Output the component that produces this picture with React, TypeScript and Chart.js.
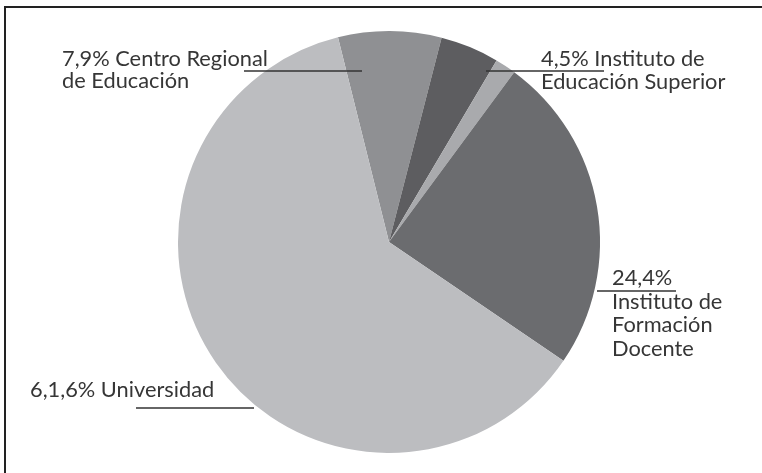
import React, { useEffect, useRef } from 'react';
import { Chart, registerables } from 'chart.js';

Chart.register(...registerables);

const categories = [
  'Centro Regional de Educación',
  'Instituto de Educación Superior',
  'Otros',
  'Instituto de Formación Docente',
  'Universidad',
];
const values = [7.9, 4.5, 1.6, 24.4, 61.6];
const sliceColors = ['#8f9093', '#5d5d60', '#a9aaad', '#6b6c6f', '#bcbdc0'];
const labelLines: (string[] | null)[] = [
  ['7,9% Centro Regional', 'de Educación'],
  ['4,5% Instituto de', 'Educación Superior'],
  null,
  ['24,4%', 'Instituto de', 'Formación', 'Docente'],
  ['6,1,6% Universidad'],
];

// annotation layout: offsets (px) from pie centre
const labelLayout: ({ tx: number; ty: number; lh: number; lx1: number; lx2: number; ly: number } | null)[] = [
  { tx: -327, ty: -176, lh: 22, lx1: -145, lx2: -27, ly: -171 },
  { tx: 152, ty: -176, lh: 23, lx1: 97, lx2: 215, ly: -171 },
  null,
  { tx: 223, ty: 43, lh: 23.7, lx1: 208, lx2: 287, ly: 49 },
  { tx: -359, ty: 155, lh: 22, lx1: -253, lx2: -135, ly: 166 },
];

const FONT = '21.8px Lato';

const labelPlugin = {
  id: 'leaderLabels',
  afterDraw(chart: any) {
    const meta = chart.getDatasetMeta(0);
    const arc = meta.data[0];
    if (!arc) return;
    const cx = arc.x;
    const cy = arc.y;
    const ctx = chart.ctx;
    ctx.save();
    ctx.font = FONT;
    ctx.fillStyle = '#363636';
    ctx.strokeStyle = '#333333';
    ctx.lineWidth = 1.5;
    ctx.textBaseline = 'alphabetic';
    ctx.textAlign = 'left';
    labelLines.forEach((lines, i) => {
      const lay = labelLayout[i];
      if (!lines || !lay) return;
      lines.forEach((t, j) => {
        ctx.fillText(t, cx + lay.tx, cy + lay.ty + j * lay.lh);
      });
      ctx.beginPath();
      ctx.moveTo(cx + lay.lx1, cy + lay.ly);
      ctx.lineTo(cx + lay.lx2, cy + lay.ly);
      ctx.stroke();
    });
    ctx.restore();
  },
};

export default function App() {
  const ref = useRef<HTMLCanvasElement>(null);
  useEffect(() => {
    if (!ref.current) return;
    const chart = new Chart(ref.current, {
      type: 'pie',
      data: {
        labels: categories,
        datasets: [
          {
            data: values,
            backgroundColor: sliceColors,
            borderWidth: 0,
          },
        ],
      },
      options: {
        animation: false,
        responsive: true,
        maintainAspectRatio: false,
        rotation: -14,
        layout: { padding: { top: 31, bottom: 20, left: 100, right: 84 } },
        plugins: {
          legend: { display: false },
          tooltip: { enabled: false },
        },
      },
      plugins: [labelPlugin],
    });
    return () => chart.destroy();
  }, []);

  return (
    <div style={{ position: 'fixed', left: 0, top: 0, width: 762, height: 473, background: '#fff', overflow: 'hidden' }}>
      <div
        style={{
          position: 'absolute',
          left: 4,
          top: 6,
          width: 800,
          height: 500,
          borderTop: '2px solid #222',
          borderLeft: '2px solid #222',
        }}
      />
      <div style={{ position: 'absolute', left: 0, top: 0, width: 762, height: 473 }}>
        <canvas ref={ref} />
      </div>
    </div>
  );
}
